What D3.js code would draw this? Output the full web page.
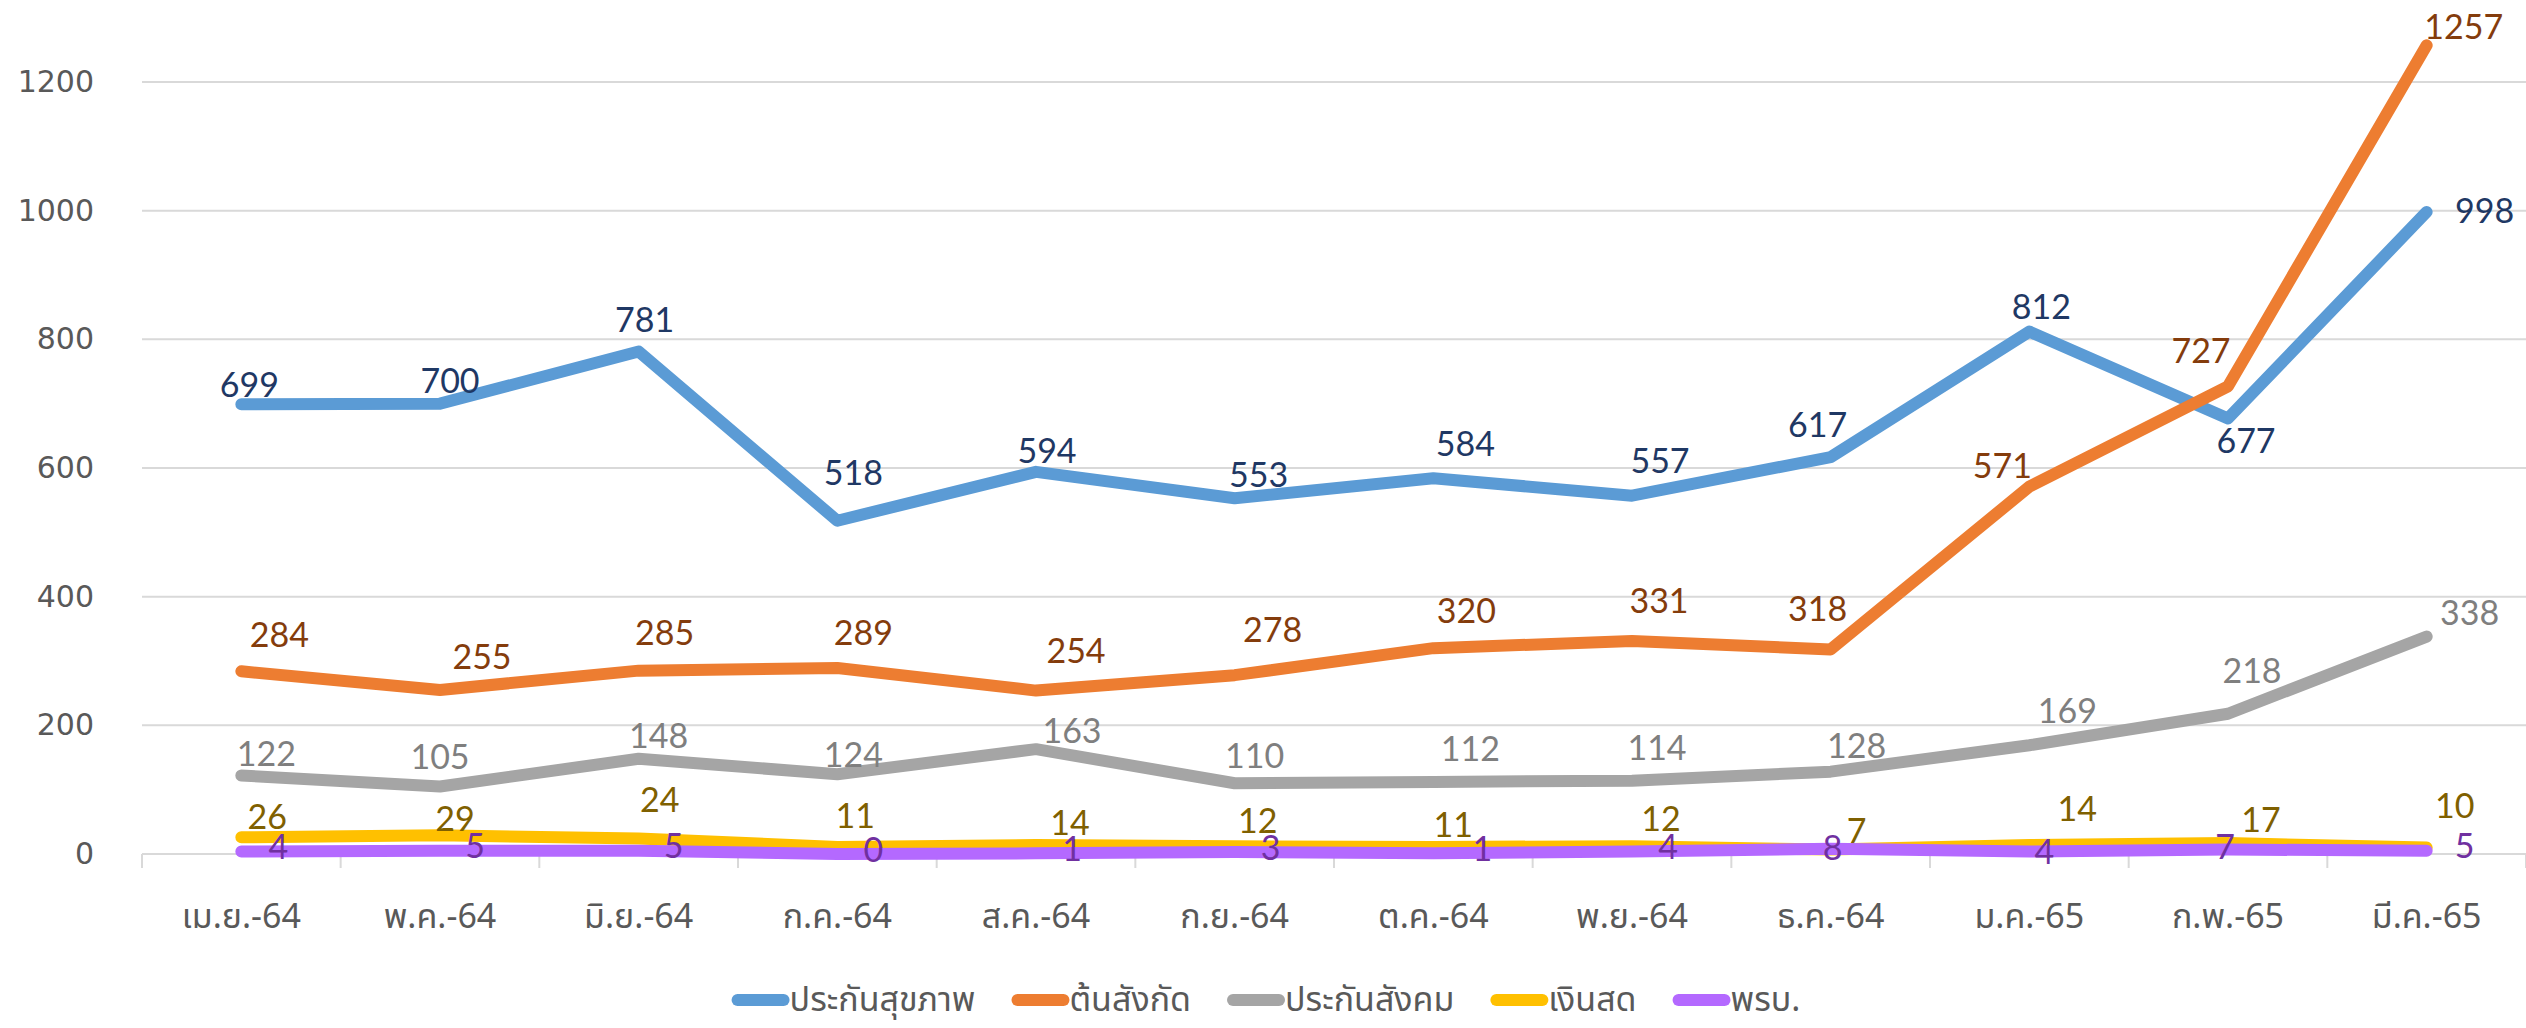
<!DOCTYPE html>
<html>
<head>
<meta charset="utf-8">
<script src="https://cdn.jsdelivr.net/npm/d3@7"></script>
<style>
  body { margin: 0; background: #fff; }
  svg { display: block; }
</style>
</head>
<body>
<svg id="chart" width="2526" height="1028"></svg>
<script>
// categories (months)
const months = ["เม.ย.-64", "พ.ค.-64", "มิ.ย.-64", "ก.ค.-64", "ส.ค.-64", "ก.ย.-64",
                "ต.ค.-64", "พ.ย.-64", "ธ.ค.-64", "ม.ค.-65", "ก.พ.-65", "มี.ค.-65"];

// series values
const health = [699, 700, 781, 518, 594, 553, 584, 557, 617, 812, 677, 998];
const agency = [284, 255, 285, 289, 254, 278, 320, 331, 318, 571, 727, 1257];
const social = [122, 105, 148, 124, 163, 110, 112, 114, 128, 169, 218, 338];
const cash   = [26, 29, 24, 11, 14, 12, 11, 12, 7, 14, 17, 10];
const pob    = [4, 5, 5, 0, 1, 3, 1, 4, 8, 4, 7, 5];

const yTicks = [0, 200, 400, 600, 800, 1000, 1200];

const series = [
  {name: "ประกันสุขภาพ", values: health, color: "#5B9BD5", label: "#1F3864"},
  {name: "ต้นสังกัด",     values: agency, color: "#ED7D31", label: "#843C0C"},
  {name: "ประกันสังคม",  values: social, color: "#A5A5A5", label: "#7F7F7F"},
  {name: "เงินสด",       values: cash,   color: "#FFC000", label: "#7F6000"},
  {name: "พรบ.",         values: pob,    color: "#B469FF", label: "#7030A0"}
];

// hand-placed data labels in the original: [dx, dy] from the point (dy = baseline)
const labelNudge = [
  [[8,-7],[10,-11],[6,-20],[16,-36],[11,-9],[24,-11],[32,-22],[28,-23],[-13,-20],[12,-13],[18,35],[58,11]],
  [[38,-24],[42,-21],[26,-26],[26,-23],[40,-28],[38,-33],[33,-25],[27,-28],[-13,-28],[-27,-9],[-27,-23],[37,-6]],
  [[25,-10],[0,-17],[20,-11],[16,-7],[36,-6],[20,-15],[37,-21],[25,-21],[26,-14],[38,-22],[24,-31],[43,-12]],
  [[26,-8],[15,-4],[21,-27],[18,-19],[34,-10],[23,-13],[20,-10],[29,-15],[26,-6],[48,-24],[33,-11],[28,-30]],
  [[37,8],[35,7],[35,7],[36,8],[36,8],[36,8],[49,8],[36,8],[2,11],[15,13],[-3,10],[38,7]]
];

const thaiFont = "'Noto Sans Thai', 'Noto Sans Thai UI', Loma, Garuda, 'Tlwg Typo', 'DejaVu Sans', sans-serif";

const svg = d3.select("#chart");
const plot = {left: 142, right: 2526, top: 82, bottom: 854};

const xBand = d3.scaleBand().domain(months).range([plot.left, plot.right]);
const x = d => xBand(d) + xBand.bandwidth() / 2;
const y = d3.scaleLinear().domain([0, 1200]).range([plot.bottom, plot.top]);

// gridlines
svg.append("g")
  .selectAll("line")
  .data(yTicks)
  .join("line")
  .attr("x1", plot.left).attr("x2", plot.right)
  .attr("y1", d => y(d)).attr("y2", d => y(d))
  .attr("stroke", "#d9d9d9")
  .attr("stroke-width", 2);

// y axis labels
const yAxis = svg.append("g")
  .attr("transform", `translate(${plot.left - 48},0)`)
  .call(d3.axisLeft(y).tickValues(yTicks).tickFormat(d3.format("d")).tickSize(0).tickPadding(0));
yAxis.select(".domain").remove();
yAxis.selectAll("text")
  .attr("font-family", "'DejaVu Sans', sans-serif")
  .attr("font-size", 30)
  .attr("fill", "#595959");

// x axis: tick marks on category boundaries
const bounds = months.map(m => xBand(m)).concat([plot.right]);
svg.append("g")
  .selectAll("line")
  .data(bounds)
  .join("line")
  .attr("x1", d => d).attr("x2", d => d)
  .attr("y1", plot.bottom).attr("y2", plot.bottom + 14)
  .attr("stroke", "#d9d9d9")
  .attr("stroke-width", 2);

svg.append("g")
  .selectAll("text")
  .data(months)
  .join("text")
  .attr("x", d => x(d))
  .attr("y", 928)
  .attr("text-anchor", "middle")
  .attr("font-family", thaiFont)
  .attr("font-size", 34)
  .attr("fill", "#595959")
  .text(d => d);

// lines
const line = d3.line()
  .x((d, i) => x(months[i]))
  .y(d => y(d));

svg.append("g")
  .selectAll("path")
  .data(series)
  .join("path")
  .attr("d", s => line(s.values))
  .attr("fill", "none")
  .attr("stroke", s => s.color)
  .attr("stroke-width", 12)
  .attr("stroke-linejoin", "round")
  .attr("stroke-linecap", "round");

// data labels
series.forEach((s, si) => {
  svg.append("g")
    .selectAll("text")
    .data(s.values)
    .join("text")
    .attr("x", (d, i) => x(months[i]) + labelNudge[si][i][0])
    .attr("y", (d, i) => y(d) + labelNudge[si][i][1])
    .attr("text-anchor", "middle")
    .attr("font-family", "Lato, 'Open Sans', sans-serif")
    .attr("font-size", 34)
    .attr("fill", s.label)
    .text(d => d);
});

// legend, centred on the whole picture
const legend = svg.append("g").attr("transform", "translate(0,1000)");
const items = legend.selectAll("g")
  .data(series)
  .join("g");
items.append("line")
  .attr("x1", 6).attr("x2", 52)
  .attr("y1", 0).attr("y2", 0)
  .attr("stroke", s => s.color)
  .attr("stroke-width", 12)
  .attr("stroke-linecap", "round");
items.append("text")
  .attr("x", 58)
  .attr("y", 11)
  .attr("font-family", thaiFont)
  .attr("font-size", 34)
  .attr("fill", "#595959")
  .text(s => s.name);

let widths = [];
items.each(function() { widths.push(this.getBBox().width); });
const gap = 42;
const total = d3.sum(widths) + gap * (widths.length - 1);
let cx = 1263 - total / 2;
items.attr("transform", (s, i) => {
  const t = `translate(${cx},0)`;
  cx += widths[i] + gap;
  return t;
});
</script>
</body>
</html>
